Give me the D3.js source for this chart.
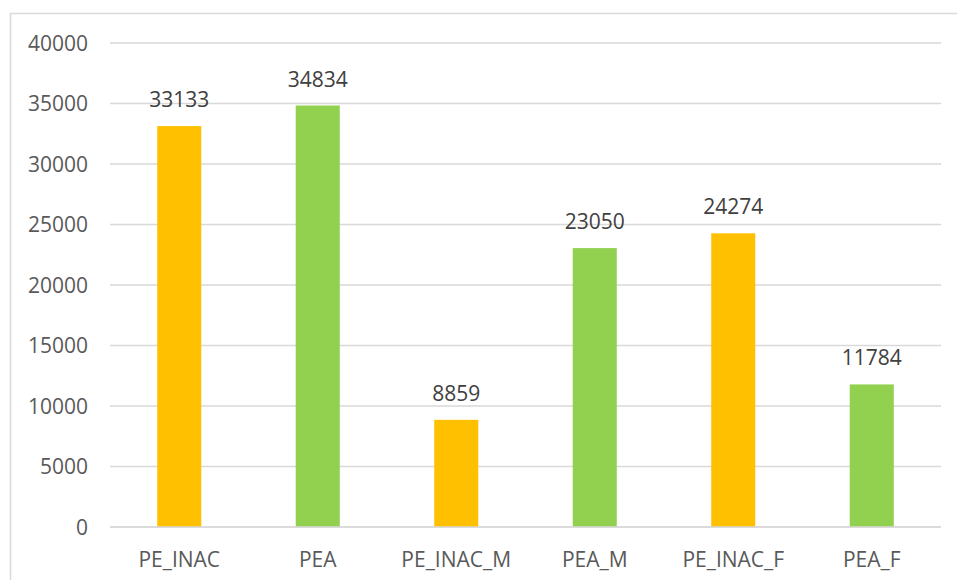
<!DOCTYPE html>
<html>
<head>
<meta charset="utf-8">
<script src="https://cdn.jsdelivr.net/npm/d3@7"></script>
<style>
  html, body { margin: 0; padding: 0; background: #fff; }
  svg { display: block; }
  text { font-family: "Open Sans", "Noto Sans", sans-serif; fill: #595959; }
</style>
</head>
<body>
<svg id="chart" width="957" height="580"></svg>
<script>
// Population counts by activity status and sex
const categories = ["PE_INAC", "PEA", "PE_INAC_M", "PEA_M", "PE_INAC_F", "PEA_F"];
const values = [33133, 34834, 8859, 23050, 24274, 11784];
const barColors = ["#FFC000", "#92D050", "#FFC000", "#92D050", "#FFC000", "#92D050"];
const yTicks = [0, 5000, 10000, 15000, 20000, 25000, 30000, 35000, 40000];

const svg = d3.select("#chart");
const W = 957, H = 580;
const plot = { left: 110, right: 941, top: 43, bottom: 527 };

// outer chart frame (extends past the visible canvas on right/bottom)
svg.append("rect")
  .attr("x", 10.5).attr("y", 13.5)
  .attr("width", W + 20).attr("height", H + 20)
  .attr("fill", "#fff")
  .attr("stroke", "#d9d9d9")
  .attr("stroke-width", 1.5);

const x = d3.scaleBand()
  .domain(categories)
  .range([plot.left, plot.right])
  .paddingInner(0.682)
  .paddingOuter(0.341);

const y = d3.scaleLinear()
  .domain([0, 40000])
  .range([plot.bottom, plot.top]);

// horizontal gridlines
svg.append("g")
  .selectAll("line")
  .data(yTicks)
  .join("line")
  .attr("x1", plot.left).attr("x2", plot.right)
  .attr("y1", d => y(d)).attr("y2", d => y(d))
  .attr("stroke", "#d9d9d9")
  .attr("stroke-width", 1.5);

// y axis labels
const yAxis = d3.axisLeft(y).tickValues(yTicks).tickSize(0).tickPadding(0).tickFormat(d3.format("d"));
const yg = svg.append("g")
  .attr("transform", `translate(${plot.left - 22},0)`)
  .call(yAxis);
yg.select(".domain").remove();
yg.selectAll("text")
  .style("font-size", "21px")
  .attr("fill", "#595959")
  .attr("dy", "0.35em");

// bars
svg.append("g")
  .selectAll("rect")
  .data(values)
  .join("rect")
  .attr("x", (d, i) => x(categories[i]))
  .attr("width", x.bandwidth())
  .attr("y", d => y(d))
  .attr("height", d => y(0) - y(d))
  .attr("fill", (d, i) => barColors[i]);

// value labels above bars
svg.append("g")
  .selectAll("text")
  .data(values)
  .join("text")
  .attr("x", (d, i) => x(categories[i]) + x.bandwidth() / 2)
  .attr("y", d => y(d) - 19)
  .attr("text-anchor", "middle")
  .style("font-size", "21px")
  .style("fill", "#404040")
  .text(d => d);

// x axis line and category labels
svg.append("line")
  .attr("x1", plot.left).attr("x2", plot.right)
  .attr("y1", y(0)).attr("y2", y(0))
  .attr("stroke", "#d9d9d9")
  .attr("stroke-width", 1.5);

const xAxis = d3.axisBottom(x).tickSize(0).tickPadding(0);
const xg = svg.append("g")
  .attr("transform", `translate(0,${plot.bottom + 40})`)
  .call(xAxis);
xg.select(".domain").remove();
xg.selectAll("text")
  .style("font-size", "21px")
  .attr("fill", "#595959")
  .attr("dy", "0");
</script>
</body>
</html>
